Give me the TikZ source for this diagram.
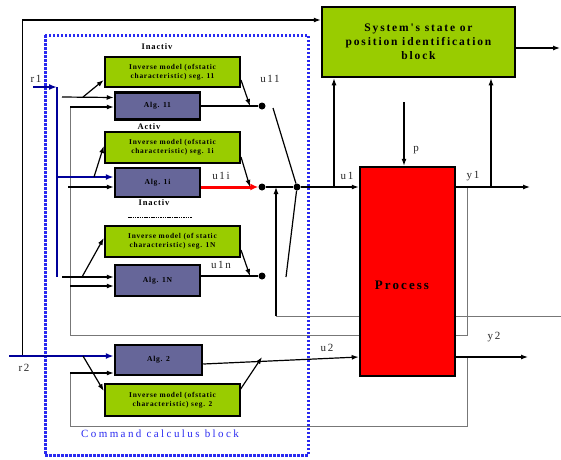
\documentclass[tikz,border=0pt]{standalone}
\usepackage{fontspec}
\setmainfont{Liberation Serif}
\newfontfamily\spc[LetterSpace=10]{Liberation Serif}
\newfontfamily\spcl[LetterSpace=14]{Liberation Serif}
\newfontfamily\spcb[LetterSpace=16]{Liberation Serif}
\newfontfamily\spcc[LetterSpace=22]{Liberation Serif}
\usetikzlibrary{arrows.meta,calc}
\definecolor{lgreen}{HTML}{99CC00}
\definecolor{algc}{HTML}{666699}
\definecolor{cblue}{HTML}{2A2AF0}
\definecolor{bus}{HTML}{000099}
\definecolor{fb}{HTML}{777777}
\tikzset{
  greenbox/.style={draw, line width=2.5pt, fill=lgreen, minimum width=135pt, minimum height=30pt, inner sep=1pt, align=center, font=\spc\fontsize{7.4}{8.6}\selectfont\bfseries},
  algbox/.style={draw, line width=2.5pt, fill=algc, minimum width=85pt, minimum height=27pt, inner sep=1pt, font=\spc\fontsize{7.6}{9}\selectfont\bfseries},
  conn/.style={line width=1.2pt, -{Latex[length=7pt,width=5pt]}},
  plain/.style={line width=1.2pt},
  bluearr/.style={line width=2.5pt, draw=bus, -{Latex[length=8pt,width=6pt]}},
  grayline/.style={line width=1pt, draw=fb},
  lbl/.style={font=\spcl\fontsize{11}{13}\selectfont, text=black!85},
  sw/.style={circle, fill=black, inner sep=0pt, minimum size=7pt},
}
\begin{document}
\begin{tikzpicture}[x=1pt,y=-1pt]
\path[use as bounding box] (0,0) rectangle (561,459);

% feedback / background lines
\draw[grayline] (276,316) -- (561,316);
\draw[grayline] (467,187) -- (467,335) -- (70,335) -- (70,107);
\draw[grayline] (467,357) -- (467,426) -- (70,426) -- (70,373);

% command calculus block border
\draw[cblue, line width=3pt, dash pattern=on 2.5pt off 1.5pt] (45,35) rectangle (308,455);
\node[font=\spcc\fontsize{11}{13}\selectfont, text=cblue] (cmdlbl) at (160,434) {Command calculus block};

% nodes
\node[greenbox] (G1) at (172.5,72) {Inverse model (ofstatic\\characteristic) seg. 11};
\node[algbox] (A11) at (157.5,106) {Alg. 11};
\node[greenbox, minimum height=31pt] (G2) at (172.5,147.5) {Inverse model (ofstatic\\characteristic) seg. 1i};
\node[algbox, minimum height=29pt] (A1i) at (157.5,182.5) {Alg. 1i};
\node[greenbox, minimum height=31pt] (G3) at (172.5,241.5) {Inverse model (of static\\characteristic) seg. 1N};
\node[algbox, minimum height=31pt] (A1N) at (157.5,280.5) {Alg. 1N};
\node[algbox, minimum width=87pt, minimum height=30pt] (A2) at (158.5,360) {Alg. 2};
\node[greenbox, minimum height=32pt] (G4) at (172.5,400) {Inverse model (ofstatic\\characteristic) seg. 2};

\node[draw, line width=2.5pt, fill=lgreen, minimum width=193pt, minimum height=70pt, align=center, font=\spcb\fontsize{11.5}{14}\selectfont\bfseries] (Sys) at (418.5,42) {System's state or\\position identification\\block};

% labels
\node[font=\spc\fontsize{8.5}{10}\selectfont\bfseries] (in1) at (157,47) {Inactiv};
\node[font=\spc\fontsize{8.5}{10}\selectfont\bfseries] (ac1) at (149,127) {Activ};
\node[font=\spc\fontsize{8.5}{10}\selectfont\bfseries] (in2) at (154,203) {Inactiv};
\coordinate (dl1) at (128,217);
\coordinate (dl2) at (192,217);
\draw[line width=1pt, dash pattern=on 1.5pt off 0.8pt] (dl1) -- (dl2);

\node[lbl] (lu11) at (270,79) {u11};
\node[lbl] (lu1i) at (221,176) {u1i};
\node[lbl] (lu1n) at (221,265) {u1n};
\node[lbl] (lu1) at (347,176) {u1};
\node[lbl] (lu2) at (327,348) {u2};
\node[lbl] (ly1) at (473,176) {y1};
\node[lbl] (ly2) at (494,337) {y2};
\node[lbl] (lp) at (416,150) {p};
\node[lbl] (lr1) at (36,79) {r1};
\node[lbl] (lr2) at (24,368) {r2};

% r1 bus
\coordinate (r1s) at (33,87);
\coordinate (busT) at (57,87);
\coordinate (busB) at (57,277);
\draw[bluearr] (r1s) -- (busT);
\draw[line width=2.5pt, draw=bus] (busT) -- (busB);

% inputs to Alg 11 and G1
\coordinate (i11) at (62,97);
\coordinate (b11) at (83,97);
\draw[conn] (i11) -- ([yshift=8.5pt]A11.west);
\draw[conn] (b11) -- ([yshift=-8pt]G1.west);
\coordinate (f11) at (70,107);
\draw[conn] (f11) -- ([yshift=-1pt]A11.west);

% inputs to Alg 1i and G2
\coordinate (i1i) at (57,177);
\coordinate (b1i) at (94,177);
\draw[bluearr] (i1i) -- ([yshift=5.5pt]A1i.west);
\draw[conn] (b1i) -- ([yshift=1.5pt]G2.west);
\coordinate (f1i) at (68,187);
\draw[conn] (f1i) -- ([yshift=-4.5pt]A1i.west);

% inputs to Alg 1N and G3
\coordinate (i1n) at (62,277);
\coordinate (b1n) at (82,277);
\draw[conn] (i1n) -- ([yshift=3.5pt]A1N.west);
\draw[conn] (b1n) -- ([yshift=3.5pt]G3.west);
\coordinate (f1n) at (70,286);
\draw[conn] (f1n) -- ([yshift=-5.5pt]A1N.west);

% switch dots
\node[sw] (d11) at (262,106) {};
\node[sw] (d1i) at (262,187) {};
\node[sw] (d1n) at (262,276) {};
\node[sw] (dC) at (297,187) {};

\draw[plain] (A11.east) -- (d11);
\draw[line width=3pt, red, -{Latex[length=8pt,width=7pt]}] ([yshift=-4.5pt]A1i.east) -- (d1i.west);
\draw[plain] ([yshift=4.5pt]A1N.east) -- (d1n);
\coordinate (g1o) at (241,80);
\coordinate (g1t) at (250,106);
\draw[conn] (g1o) -- (g1t);
\coordinate (g2o) at (241,157);
\coordinate (g2t) at (250,187);
\draw[conn] (g2o) -- (g2t);
\coordinate (g3o) at (241,250);
\coordinate (g3t) at (250,276);
\draw[conn] (g3o) -- (g3t);

\coordinate (sw1) at (273,108);
\coordinate (sw2) at (286,277);
\draw[plain] (sw1) -- (dC);
\draw[plain] (sw2) -- (dC);
\draw[plain] (d1i) -- (dC);

% feedback into u1 line
\coordinate (fbb) at (276,316);
\coordinate (fbt) at (276,187);
\draw[conn] (fbb) -- (fbt);

% outer line from r2 to system block
\coordinate (o1) at (22,356);
\coordinate (o2) at (22,20);
\draw[line width=1pt] (o1) -- (o2);
\draw[conn] (o2) -- ([yshift=22pt]Sys.west);

% r2 and Alg 2
\coordinate (r2s) at (9,356);
\draw[bluearr] (r2s) -- ([yshift=4pt]A2.west);
\coordinate (b2) at (83,356);
\draw[conn] (b2) -- ([yshift=9pt]G4.west);
\coordinate (f2) at (70,373);
\draw[conn] (f2) -- ([yshift=-13pt]A2.west);
\coordinate (g4o) at (240,390);
\coordinate (g4t) at (262,357);
\draw[conn] (g4o) -- (g4t);

% process
\node[draw, line width=2.5pt, fill=red, minimum width=95pt, minimum height=209pt] (Proc) at (407.5,271.5) {};
\node[font=\spcb\fontsize{13}{15}\selectfont\bfseries] (proclbl) at (402,285) {Process};

\draw[conn] (dC) -- ([yshift=84.5pt]Proc.west);
\draw[conn] ([yshift=-4pt]A2.east) -- ([yshift=-85.5pt]Proc.west);
\coordinate (y1e) at (530,187);
\coordinate (y2e) at (528,357);
\draw[conn] ([yshift=84.5pt]Proc.east) -- (y1e);
\draw[conn] ([yshift=-85.5pt]Proc.east) -- (y2e);

\coordinate (ps) at (404,102);
\draw[conn] (ps) -- ([xshift=-3.5pt]Proc.north);

% into system block
\coordinate (su1) at (334,187);
\coordinate (sy1) at (491,187);
\draw[conn] (su1) -- (Sys.south -| su1);
\draw[conn] (sy1) -- (Sys.south -| sy1);
\coordinate (so) at (560,48);
\draw[conn] ([yshift=-6pt]Sys.east) -- (so);
\end{tikzpicture}
\end{document}
